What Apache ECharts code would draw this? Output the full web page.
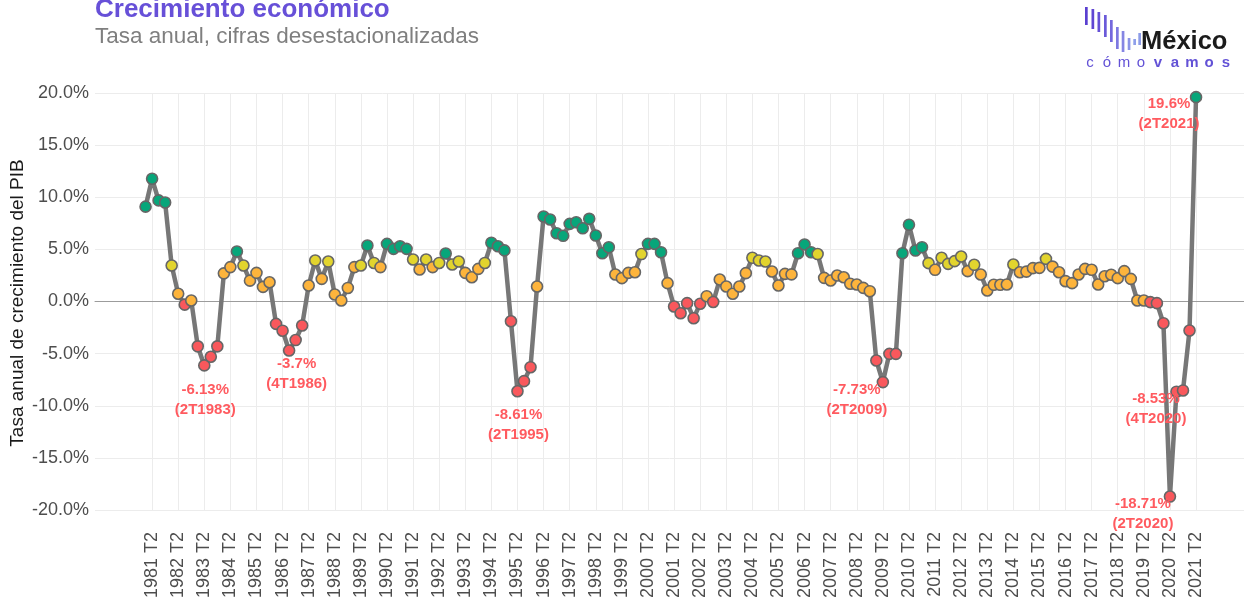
<!DOCTYPE html>
<html>
<head>
    <meta charset="utf-8">
    <script src="https://cdn.jsdelivr.net/npm/echarts@6/dist/echarts.min.js"></script>
    <style>
        html, body { margin: 0; padding: 0; background: #fff; }
    </style>
</head>
<body>
    <div id="main" style="width: 1244px;height:604px;"></div>
	<script type="text/javascript">
        // trimestres 1981 T1 - 2021 T2
        var years = [];
        for (var y = 1981; y <= 2021; y++) years.push(y);
        var quarters = [];
        years.forEach(function (y) {
            [1, 2, 3, 4].forEach(function (q) {
                if (y === 2021 && q > 2) return;
                quarters.push(y + ' T' + q);
            });
        });

        // tasa anual (%)
        var growth = [
            9.1, 11.77, 9.7, 9.5,  3.45, 0.74, -0.3, 0.1,  -4.3, -6.13, -5.3, -4.3,
            2.7, 3.3, 4.8, 3.45,  2.0, 2.75, 1.4, 1.85,  -2.15, -2.8, -4.7, -3.7,
            -2.3, 1.53, 3.93, 2.17,  3.83, 0.67, 0.1, 1.3,  3.3, 3.45, 5.37, 3.7,
            3.3, 5.53, 5.05, 5.3,  5.05, 4.03, 3.07, 4.03,  3.3, 3.7, 4.6, 3.55,
            3.84, 2.75, 2.33, 3.13,  3.7, 5.63, 5.3, 4.9,  -1.89, -8.61, -7.64, -6.3,
            1.44, 8.15, 7.87, 6.55,  6.3, 7.45, 7.6, 7.03,  7.93, 6.33, 4.63, 5.2,
            2.59, 2.24, 2.75, 2.81,  4.55, 5.53, 5.53, 4.73,  1.76, -0.48, -1.12, -0.16,
            -1.6, -0.22, 0.51, -0.05,  2.11, 1.44, 0.74, 1.44,  2.72, 4.19, 3.93, 3.84,
            2.88, 1.53, 2.65, 2.6,  4.63, 5.47, 4.73, 4.55,  2.27, 2.01, 2.49, 2.33,
            1.7, 1.63, 1.31, 0.99,  -5.66, -7.73, -5.02, -5.02,  4.63, 7.36, 4.89, 5.21,
            3.68, 3.04, 4.19, 3.61,  3.87, 4.32, 2.91, 3.52,  2.59, 1.06, 1.6, 1.6,
            1.63, 3.55, 2.81, 2.87,  3.2, 3.23, 4.09, 3.35,  2.81, 1.95, 1.76, 2.59,
            3.13, 3.04, 1.63, 2.42,  2.57, 2.24, 2.91, 2.17,  0.1, 0.1, -0.06, -0.16,
            -2.08, -18.71, -8.65, -8.53,  -2.78, 19.6
        ];

        // etiquetas del eje x
        var tickLabels = quarters.filter(function (q) { return /T2$/.test(q); });
        var yTicks = [-20, -15, -10, -5, 0, 5, 10, 15, 20];

        // puntos anotados
        var hitos = ['1983 T2', '1986 T4', '1995 T2', '2009 T2', '2020 T2', '2020 T4', '2021 T2'];
        var hitoTags = ['2T1983', '4T1986', '2T1995', '2T2009', '2T2020', '4T2020', '2T2021'];

        // estilos
        var hitoOffsets = [[1, 34], [1, 34], [1, 34], [-26, 18], [-27, 17], [-27, 18], [-27, 17]];
        var tickIdx = tickLabels.map(function (t) { return quarters.indexOf(t); });

        function colorFor(v) {
            if (v < 0) return '#F9585C';
            if (v < 3.4) return '#FDB43C';
            if (v < 4.6) return '#E2D42E';
            return '#07A67A';
        }

        var seriesData = growth.map(function (v, i) {
            var item = { value: [i, v], itemStyle: { color: colorFor(v) } };
            var h = hitos.indexOf(quarters[i]);
            if (h >= 0) {
                item.label = {
                    show: true,
                    position: 'inside',
                    offset: hitoOffsets[h],
                    formatter: v + '%\n(' + hitoTags[h] + ')'
                };
            }
            return item;
        });

        var font = 'Liberation Sans, Arial, sans-serif';

        // logo
        var barsX = [1085, 1091.5, 1097.5, 1104, 1110, 1116, 1121.7, 1127.7, 1133.3, 1138.3];
        var barsY = [[7, 25], [9, 29], [12, 32], [15, 37], [20, 42], [27, 49], [31, 52], [38, 50], [39, 45], [33, 45]];
        var barsC = ['#5a3fd0', '#5f46d3', '#6550d6', '#6b5ad9', '#7468dd', '#7d78e1', '#8585e3', '#8b93e6', '#8f9fea', '#8d9ce8'];
        var logo = [];
        barsX.forEach(function (x, k) {
            logo.push({
                type: 'rect',
                shape: { x: x, y: barsY[k][0], width: 2.7, height: barsY[k][1] - barsY[k][0] },
                style: { fill: barsC[k] }
            });
        });
        logo.push({
            type: 'text', x: 1141, y: 55,
            style: { text: 'México', font: 'bold 25.5px ' + font, fill: '#1b1b1b', verticalAlign: 'bottom' }
        });
        'cómovamos'.split('').forEach(function (ch, k) {
            logo.push({
                type: 'text', x: 1090 + k * 17, y: 62.5,
                style: {
                    text: ch, font: (k < 4 ? '' : 'bold ') + '15px ' + font,
                    fill: '#6352d6', align: 'center', verticalAlign: 'middle'
                }
            });
        });

        var myChart = echarts.init(document.getElementById('main'));
		myChart.setOption({
            animation: false,
            backgroundColor: '#ffffff',
            grid: { left: 95, right: 0, top: 93, bottom: 94, containLabel: false },
            graphic: [
                {
                    type: 'text', x: 95, y: 10,
                    style: { text: 'Crecimiento económico', font: 'bold 26px ' + font, fill: '#6750D8', verticalAlign: 'middle' }
                },
                {
                    type: 'text', x: 95, y: 37,
                    style: { text: 'Tasa anual, cifras desestacionalizadas', font: '22.5px ' + font, fill: '#7f7f7f', verticalAlign: 'middle' }
                },
                {
                    type: 'text', x: 18, y: 303, rotation: Math.PI / 2,
                    style: { text: 'Tasa anual de crecimiento del PIB', font: '19px ' + font, fill: '#1a1a1a', align: 'center', verticalAlign: 'middle' }
                }
            ].concat(logo),
			xAxis: {
                type: 'value',
                min: -7.75,
                max: 168.35,
                axisLine: { show: true, onZero: true, lineStyle: { color: '#9c9c9c', width: 1 } },
                axisTick: { show: false, customValues: tickIdx },
                axisLabel: {
                    customValues: tickIdx,
                    rotate: 90,
                    margin: 22,
                    fontSize: 18,
                    fontFamily: font,
                    color: '#4d4d4d',
                    formatter: function (v) { return quarters[Math.round(v)] || ''; }
                },
                splitLine: { show: true, lineStyle: { color: '#ececec', width: 1 } }
            },
			yAxis: {
                type: 'value',
                min: yTicks[0],
                max: yTicks[yTicks.length - 1],
                interval: 5,
                axisLine: { show: false },
                axisTick: { show: false },
                axisLabel: {
                    margin: 6,
                    fontSize: 18,
                    fontFamily: font,
                    color: '#4d4d4d',
                    formatter: function (v) { return v.toFixed(1) + '%'; }
                },
                splitLine: { lineStyle: { color: '#ececec', width: 1 } }
            },
			series: [{
				name: 'PIB',
				type: 'line',
				data: seriesData,
                showAllSymbol: true,
                symbol: 'circle',
                symbolSize: 11,
                lineStyle: { color: '#777777', width: 4.5 },
                itemStyle: { borderColor: '#666666', borderWidth: 1.6 },
                label: {
                    show: false,
                    color: '#FF5A5F',
                    fontWeight: 'bold',
                    fontSize: 15,
                    fontFamily: font,
                    lineHeight: 20,
                    align: 'center',
                    verticalAlign: 'middle'
                },
                emphasis: { disabled: true },
                z: 3
			}]
		});
    </script>
</body>
</html>
